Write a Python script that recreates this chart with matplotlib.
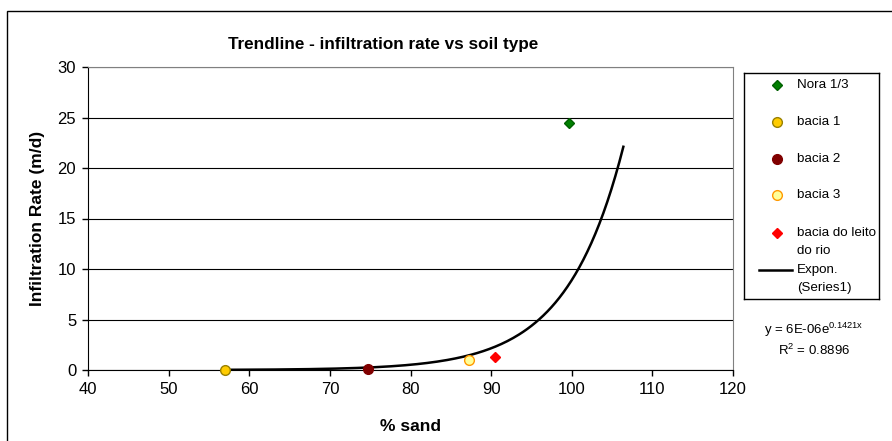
import numpy as np
import matplotlib
matplotlib.use("Agg")
import matplotlib.pyplot as plt
from matplotlib.patches import Rectangle

plt.rcParams['font.family'] = ['Liberation Sans', 'DejaVu Sans']
plt.rcParams['mathtext.fontset'] = 'custom'
plt.rcParams['mathtext.rm'] = 'Liberation Sans'
plt.rcParams['mathtext.it'] = 'Liberation Sans'

# data
names = ["Nora 1/3", "bacia 1", "bacia 2", "bacia 3", "bacia do leito\ndo rio"]
sand = [99.6, 57.0, 74.7, 87.3, 90.5]
rate = [24.5, 0.0, 0.1, 1.0, 1.3]
markers = ["D", "o", "o", "o", "D"]
faces = ["#008000", "#FFCC00", "#800000", "#FFFF99", "#FF0000"]
edges = ["#006000", "#998000", "#800000", "#FF9900", "#FF0000"]
msize = [5, 7, 7, 7, 5.5]

# exponential trendline as printed on the chart
coef_a = 6e-06
coef_b = 0.1421
trend_x0, trend_x1 = 57.0, 106.4

W, H = 892, 441
fig = plt.figure(figsize=(W / 100, H / 100), dpi=100)

def fx(px):
    return px / W

def fy(py):
    return 1 - py / H

# outer chart border
fig.add_artist(Rectangle((fx(7), fy(470)), fx(900), 470 / H - 11 / H,
                         transform=fig.transFigure, fill=False,
                         edgecolor="black", lw=1.0))

ax = fig.add_axes([fx(88), fy(370), fx(733 - 88), (370 - 67) / H])
tx = np.linspace(trend_x0, trend_x1, 200)
ax.plot(tx, coef_a * np.exp(coef_b * tx), color="black", lw=1.8, zorder=3)
for i in range(len(names)):
    ax.plot(sand[i], rate[i], marker=markers[i], ls="none", ms=msize[i],
            mfc=faces[i], mec=edges[i], mew=1.0, zorder=4, clip_on=False)

ax.set_xlim(40, 120)
ax.set_ylim(0, 30)
ax.set_xticks(range(40, 121, 10))
ax.set_yticks(range(0, 31, 5))
ax.yaxis.grid(True, color="black", lw=0.8)
ax.set_axisbelow(True)
ax.tick_params(direction="out", length=4.5, width=1, labelsize=12, pad=4)
ax.spines["left"].set_color("black")
ax.spines["bottom"].set_color("black")
ax.spines["top"].set_color("#808080")
ax.spines["right"].set_color("#808080")
ax.set_xlabel("% sand", fontsize=12.5, fontweight="bold", labelpad=16)
ax.set_ylabel("Infiltration Rate (m/d)", fontsize=12.5, fontweight="bold", labelpad=9)
fig.text(fx(383), fy(44), "Trendline - infiltration rate vs soil type",
         ha="center", va="center", fontsize=12.3, fontweight="bold")

# legend box drawn in pixel coordinates
lax = fig.add_axes([fx(744), fy(299), fx(879 - 744), (299 - 73) / H])
lax.set_xlim(744, 879)
lax.set_ylim(299, 73)
lax.set_xticks([])
lax.set_yticks([])
for s in lax.spines.values():
    s.set_color("black")
    s.set_linewidth(1.0)
leg_y = [85, 122, 159, 195, 233]
for i in range(len(names)):
    lax.plot(777, leg_y[i], marker=markers[i], ls="none", ms=msize[i],
             mfc=faces[i], mec=edges[i], mew=1.0)
    lax.text(797, leg_y[i] - 6, names[i], ha="left", va="top", fontsize=9.6,
             linespacing=1.65)
lax.plot([759, 792], [270, 270], color="black", lw=1.8)
lax.text(797, 264, "Expon.\n(Series1)", ha="left", va="top", fontsize=9.6,
         linespacing=1.65)

fig.text(fx(814), fy(330), r"y = 6E-06e$^{\mathrm{0.1421x}}$", ha="center",
         va="center", fontsize=9.5)
fig.text(fx(814), fy(350), r"R$^{\mathrm{2}}$ = 0.8896", ha="center",
         va="center", fontsize=9.5)

fig.savefig("out.png", dpi=100)
